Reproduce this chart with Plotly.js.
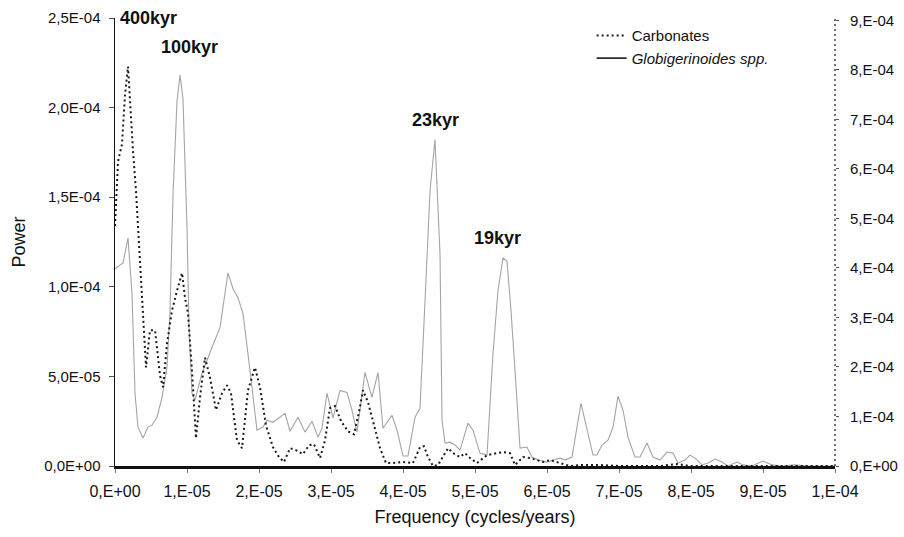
<!DOCTYPE html>
<html>
<head>
<meta charset="utf-8">
<script src="https://cdn.plot.ly/plotly-3.0.1.min.js"></script>
<style>
  html, body { margin: 0; padding: 0; background: #fff; }
  #chart { width: 904px; height: 537px; }
</style>
</head>
<body>
<div id="chart"></div>
<script>
// Frequency (cycles/year) and power for Globigerinoides spp. (left axis)
const freqGlobig = [
  0, 1.11e-6, 1.81e-6, 2.36e-6, 2.78e-6, 3.19e-6, 3.89e-6, 4.58e-6, 5.14e-6, 5.83e-6,
  6.53e-6, 7.22e-6, 7.64e-6, 8.06e-6, 8.61e-6, 9.03e-6, 9.44e-6, 10.0e-6, 10.28e-6, 10.69e-6,
  11.11e-6, 12.08e-6, 13.47e-6, 14.58e-6, 15.69e-6, 16.39e-6, 17.08e-6, 17.78e-6, 18.75e-6, 19.72e-6,
  20.56e-6, 21.11e-6, 21.94e-6, 22.92e-6, 23.61e-6, 24.31e-6, 25.42e-6, 26.39e-6, 27.36e-6, 28.19e-6,
  28.75e-6, 29.44e-6, 30.28e-6, 31.25e-6, 32.22e-6, 32.92e-6, 33.61e-6, 34.72e-6, 35.69e-6, 36.53e-6,
  37.22e-6, 38.47e-6, 39.17e-6, 40.0e-6, 40.69e-6, 41.67e-6, 42.36e-6, 43.06e-6, 43.75e-6, 44.44e-6,
  45.14e-6, 45.42e-6, 45.83e-6, 46.53e-6, 47.22e-6, 47.92e-6, 49.03e-6, 49.72e-6, 50.69e-6, 51.67e-6,
  52.5e-6, 53.19e-6, 53.89e-6, 54.44e-6, 55.0e-6, 55.56e-6, 56.25e-6, 57.22e-6, 57.92e-6, 58.75e-6,
  60.0e-6, 60.83e-6, 61.81e-6, 62.5e-6, 63.47e-6, 64.72e-6, 65.56e-6, 66.39e-6, 66.94e-6, 67.64e-6,
  68.47e-6, 69.17e-6, 69.86e-6, 70.56e-6, 71.25e-6, 72.22e-6, 72.92e-6, 73.89e-6, 74.72e-6, 75.69e-6,
  76.67e-6, 77.5e-6, 78.19e-6, 79.17e-6, 79.86e-6, 80.56e-6, 81.53e-6, 82.36e-6, 83.33e-6, 84.31e-6,
  85.14e-6, 86.39e-6, 87.22e-6, 88.47e-6, 90.0e-6, 91.25e-6, 92.64e-6, 94.44e-6, 96.25e-6, 100e-6
];
const powerGlobig = [
  11.0e-5, 11.33e-5, 12.72e-5, 9.61e-5, 4.06e-5, 2.17e-5, 1.56e-5, 2.17e-5, 2.28e-5, 2.72e-5,
  3.83e-5, 5.5e-5, 8.67e-5, 15.17e-5, 20.33e-5, 21.83e-5, 20.5e-5, 13.28e-5, 7.72e-5, 4.06e-5,
  3.67e-5, 5.17e-5, 6.61e-5, 7.72e-5, 10.78e-5, 9.89e-5, 9.39e-5, 8.5e-5, 5.33e-5, 2.0e-5,
  2.17e-5, 2.56e-5, 2.44e-5, 2.72e-5, 2.94e-5, 1.94e-5, 2.72e-5, 1.89e-5, 2.5e-5, 1.61e-5,
  2.11e-5, 4.06e-5, 2.67e-5, 4.22e-5, 4.11e-5, 3.11e-5, 1.89e-5, 5.22e-5, 3.83e-5, 5.22e-5,
  2.11e-5, 2.83e-5, 2.0e-5, 0.56e-5, 0.56e-5, 2.72e-5, 3.22e-5, 9.22e-5, 15.33e-5, 18.22e-5,
  11.83e-5, 2.56e-5, 1.28e-5, 1.33e-5, 1.17e-5, 0.89e-5, 2.39e-5, 2.0e-5, 0.72e-5, 0.61e-5,
  6.28e-5, 9.78e-5, 11.61e-5, 11.44e-5, 8.67e-5, 5.33e-5, 1.0e-5, 1.06e-5, 0.5e-5, 0.33e-5,
  0.22e-5, 0.33e-5, 0.44e-5, 0.33e-5, 0.5e-5, 3.5e-5, 2.0e-5, 0.61e-5, 0.61e-5, 1.17e-5,
  1.44e-5, 2.17e-5, 3.89e-5, 3.11e-5, 1.61e-5, 0.5e-5, 0.5e-5, 1.28e-5, 0.5e-5, 0.33e-5,
  0.78e-5, 0.72e-5, 0.17e-5, 0.33e-5, 0.61e-5, 0.44e-5, 0.06e-5, 0.17e-5, 0.39e-5, 0.22e-5,
  0.0, 0.22e-5, 0.06e-5, 0, 0.28e-5, 0.06e-5, 0, 0.06e-5, 0, 0
];

// Frequency and power for Carbonates (right axis)
const freqCarb = [
  0, 0.42e-6, 0.97e-6, 1.39e-6, 1.81e-6, 2.08e-6, 2.5e-6, 2.92e-6, 3.33e-6, 3.89e-6,
  4.31e-6, 4.86e-6, 5.56e-6, 6.25e-6, 6.67e-6, 7.22e-6, 7.92e-6, 8.61e-6, 9.31e-6, 9.72e-6,
  10.14e-6, 10.69e-6, 11.25e-6, 11.81e-6, 12.5e-6, 13.19e-6, 14.03e-6, 14.86e-6, 15.56e-6, 16.11e-6,
  16.94e-6, 17.64e-6, 18.47e-6, 19.44e-6, 20.14e-6, 20.97e-6, 21.94e-6, 22.78e-6, 23.47e-6, 24.31e-6,
  25.14e-6, 26.11e-6, 26.94e-6, 27.64e-6, 28.47e-6, 29.17e-6, 29.86e-6, 30.56e-6, 31.39e-6, 32.36e-6,
  33.19e-6, 33.89e-6, 34.44e-6, 35.14e-6, 35.97e-6, 36.81e-6, 37.64e-6, 38.61e-6, 40.0e-6, 41.39e-6,
  42.36e-6, 42.92e-6, 43.47e-6, 44.17e-6, 44.86e-6, 45.56e-6, 46.25e-6, 46.94e-6, 47.92e-6, 48.61e-6,
  49.31e-6, 50.28e-6, 51.67e-6, 53.06e-6, 53.89e-6, 54.86e-6, 55.56e-6, 56.67e-6, 57.64e-6, 58.61e-6,
  59.44e-6, 60.42e-6, 61.81e-6, 63.19e-6, 64.58e-6, 67.36e-6, 70.14e-6, 72.92e-6, 75.69e-6, 78.06e-6,
  79.86e-6, 100e-6
];
const powerCarb = [
  4.85e-4, 6.15e-4, 6.5e-4, 7.5e-4, 8.07e-4, 7.36e-4, 6.36e-4, 5.55e-4, 4.55e-4, 3.14e-4,
  1.99e-4, 2.74e-4, 2.74e-4, 1.83e-4, 1.59e-4, 2.47e-4, 3.14e-4, 3.54e-4, 3.9e-4, 3.4e-4,
  3.08e-4, 1.93e-4, 0.56e-4, 1.39e-4, 2.19e-4, 1.79e-4, 1.13e-4, 1.47e-4, 1.63e-4, 1.47e-4,
  0.52e-4, 0.36e-4, 1.53e-4, 1.99e-4, 1.59e-4, 0.82e-4, 0.38e-4, 0.18e-4, 0.08e-4, 0.36e-4,
  0.32e-4, 0.24e-4, 0.42e-4, 0.44e-4, 0.16e-4, 0.52e-4, 1.17e-4, 1.21e-4, 0.91e-4, 0.70e-4,
  0.64e-4, 1.09e-4, 1.53e-4, 1.29e-4, 0.82e-4, 0.36e-4, 0.06e-4, 0.06e-4, 0.08e-4, 0.06e-4,
  0.38e-4, 0.40e-4, 0.18e-4, 0, 0.02e-4, 0.18e-4, 0.36e-4, 0.26e-4, 0.18e-4, 0.26e-4,
  0.16e-4, 0.06e-4, 0.22e-4, 0.26e-4, 0.28e-4, 0.26e-4, 0.02e-4, 0.18e-4, 0.16e-4, 0.12e-4,
  0.08e-4, 0.12e-4, 0.06e-4, 0, 0.02e-4, 0.02e-4, 0, 0, 0, 0.04e-4,
  0, 0
];

// Tick labels
const xTickVals = [0, 1e-5, 2e-5, 3e-5, 4e-5, 5e-5, 6e-5, 7e-5, 8e-5, 9e-5, 1e-4];
const xTickText = ["0,E+00", "1,E-05", "2,E-05", "3,E-05", "4,E-05", "5,E-05", "6,E-05", "7,E-05", "8,E-05", "9,E-05", "1,E-04"];
const yLeftTickVals = [0, 5e-5, 1e-4, 1.5e-4, 2e-4, 2.5e-4];
const yLeftTickText = ["0,0E+00", "5,0E-05", "1,0E-04", "1,5E-04", "2,0E-04", "2,5E-04"];
const yRightTickVals = [0, 1e-4, 2e-4, 3e-4, 4e-4, 5e-4, 6e-4, 7e-4, 8e-4, 9e-4];
const yRightTickText = ["0,E+00", "1,E-04", "2,E-04", "3,E-04", "4,E-04", "5,E-04", "6,E-04", "7,E-04", "8,E-04", "9,E-04"];

// Peak labels
const peakLabels = ["400kyr", "100kyr", "23kyr", "19kyr"];
const peakLabelPos = [[0.046, 1.0], [0.104, 0.935], [0.445, 0.772], [0.531, 0.509]];

const FONT = "Liberation Sans, Arial, Helvetica, sans-serif";

const traces = [
  {
    x: freqGlobig, y: powerGlobig, type: "scatter", mode: "lines",
    name: "<i>Globigerinoides spp.</i>", showlegend: false,
    line: { color: "#a4a4a4", width: 1.1 }, yaxis: "y"
  },
  {
    x: freqCarb, y: powerCarb, type: "scatter", mode: "lines",
    name: "Carbonates", legendrank: 1,
    line: { color: "#1a1a1a", width: 2, dash: "2px,3px" }, yaxis: "y2"
  },
  {
    x: [null], y: [null], type: "scatter", mode: "lines",
    name: "<i>Globigerinoides spp.</i>", legendrank: 2,
    line: { color: "#2a2a3a", width: 1.6 }, yaxis: "y", hoverinfo: "skip"
  }
];

const layout = {
  width: 904, height: 537,
  margin: { l: 115, r: 69, t: 18, b: 71 },
  paper_bgcolor: "#ffffff", plot_bgcolor: "#ffffff",
  font: { family: FONT, color: "#111" },
  showlegend: true,
  legend: {
    x: 0.662, y: 0.997, xanchor: "left", yanchor: "top",
    bgcolor: "rgba(0,0,0,0)", font: { size: 15, family: FONT, color: "#111" },
    tracegroupgap: 0
  },
  xaxis: {
    range: [0, 1e-4], tickvals: xTickVals, ticktext: xTickText,
    showline: true, linecolor: "#111", linewidth: 2.5,
    ticks: "outside", ticklen: 4, tickcolor: "#777", tickwidth: 1,
    showgrid: false, zeroline: false,
    tickfont: { size: 16, family: FONT, color: "#111" },
    ticklabelstandoff: 5,
    title: { text: "Frequency (cycles/years)", font: { size: 18, family: FONT, color: "#111" }, standoff: 12 }
  },
  yaxis: {
    range: [0, 2.5e-4], tickvals: yLeftTickVals, ticktext: yLeftTickText,
    showline: true, linecolor: "#111", linewidth: 1.5,
    ticks: "outside", ticklen: 5, tickcolor: "#555", tickwidth: 1,
    showgrid: false, zeroline: false,
    tickfont: { size: 15, family: FONT, color: "#111" },
    ticklabelstandoff: 5,
    title: { text: "Power", font: { size: 18, family: FONT, color: "#111" }, standoff: 14 }
  },
  yaxis2: {
    range: [0, 9.05e-4], tickvals: yRightTickVals, ticktext: yRightTickText,
    overlaying: "y", side: "right",
    showline: false, ticks: "outside", ticklen: 3, tickcolor: "#555",
    showgrid: false, zeroline: false,
    tickfont: { size: 15, family: FONT, color: "#111" },
    ticklabelstandoff: 8
  },
  shapes: [
    {
      type: "line", xref: "paper", yref: "paper", x0: 1, x1: 1, y0: 0, y1: 1,
      line: { color: "#444", width: 1.5, dash: "2px,3px" }
    }
  ],
  annotations: peakLabels.map((t, i) => ({
    text: "<b>" + t + "</b>", xref: "paper", yref: "paper",
    x: peakLabelPos[i][0], y: peakLabelPos[i][1],
    xanchor: "center", yanchor: "middle", showarrow: false,
    font: { size: 18, family: FONT, color: "#111" }
  }))
};

Plotly.newPlot("chart", traces, layout, { staticPlot: true, displayModeBar: false });
</script>
</body>
</html>
